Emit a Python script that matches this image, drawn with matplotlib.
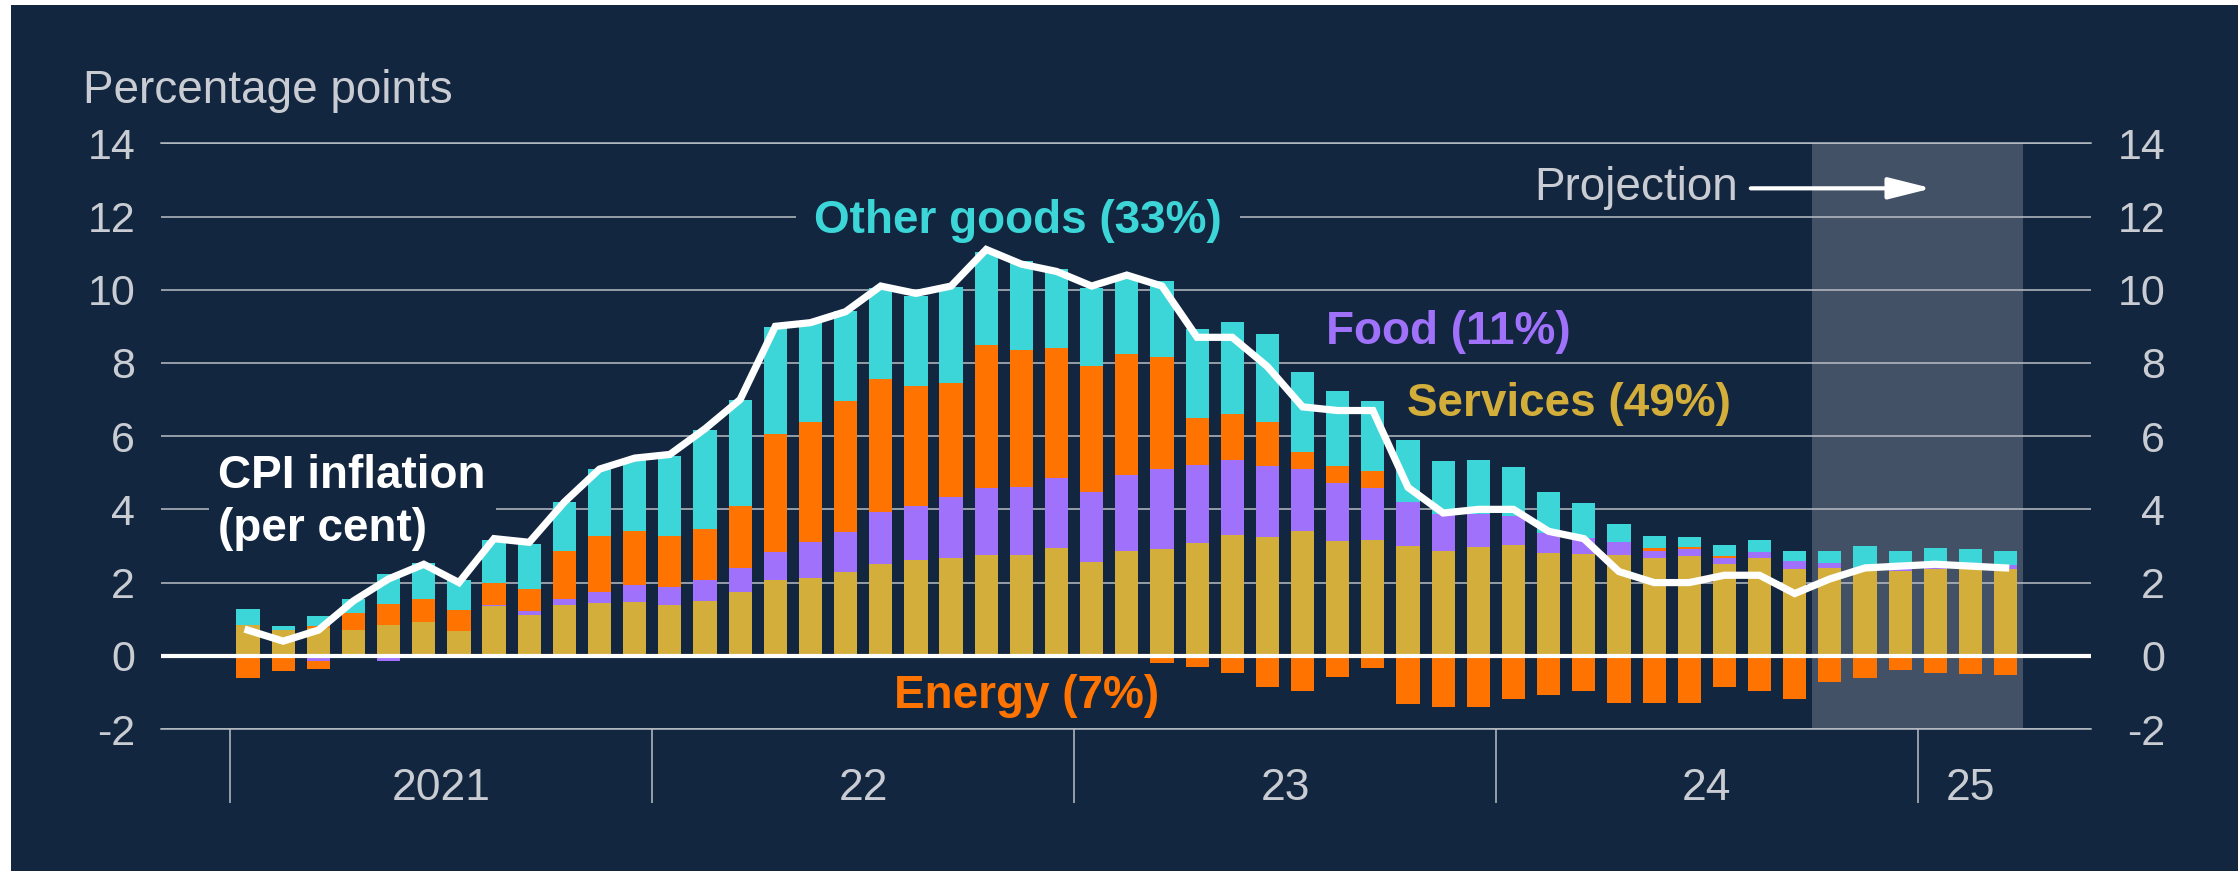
import numpy as np
import pandas as pd
import matplotlib
matplotlib.use('Agg')
from matplotlib import pyplot as plt
from matplotlib.patches import Rectangle

plt.rcParams['font.family'] = ['Liberation Sans', 'DejaVu Sans']
plt.rcParams['axes.unicode_minus'] = False

# contributions to CPI inflation, percentage points, Jan 2021 - Mar 2025
months = pd.period_range('2021-01', '2025-03', freq='M')
year_labels = ['2021', '22', '23', '24', '25']
projection_from = '2024-10'

services = [0.84, 0.70, 0.76, 0.70, 0.85, 0.92, 0.67, 1.35, 1.12, 1.39, 1.45, 1.46,
            1.40, 1.51, 1.75, 2.07, 2.13, 2.29, 2.51, 2.62, 2.68, 2.75, 2.76, 2.95,
            2.55, 2.86, 2.91, 3.08, 3.29, 3.24, 3.41, 3.14, 3.17, 3.01, 2.87, 2.98,
            3.03, 2.82, 2.78, 2.75, 2.67, 2.73, 2.51, 2.67, 2.37, 2.39, 2.32, 2.32,
            2.37, 2.37, 2.37]
food = [0, 0, -0.13, 0, -0.13, 0, 0, 0.05, 0.09, 0.16, 0.30, 0.48,
        0.49, 0.55, 0.66, 0.77, 0.99, 1.10, 1.43, 1.48, 1.67, 1.84, 1.85, 1.92,
        1.93, 2.07, 2.18, 2.13, 2.06, 1.95, 1.68, 1.57, 1.42, 1.19, 1.01, 0.90,
        0.79, 0.53, 0.43, 0.36, 0.20, 0.18, 0.16, 0.17, 0.22, 0.15, 0.05, 0.05,
        0.05, 0.05, 0.11]
# energy shows up as two orange pieces in some months (one above, one below zero)
energy_up = [0, 0, 0.05, 0.46, 0.56, 0.63, 0.57, 0.58, 0.61, 1.32, 1.51, 1.46,
             1.38, 1.40, 1.67, 3.23, 3.26, 3.57, 3.61, 3.26, 3.11, 3.91, 3.75, 3.55,
             3.43, 3.31, 3.07, 1.28, 1.25, 1.21, 0.47, 0.48, 0.47, 0, 0, 0,
             0, 0, 0, 0, 0.08, 0.07, 0.06, 0, 0, 0, 0, 0,
             0, 0, 0]
energy_down = [-0.60, -0.41, -0.23, 0, 0, 0, 0, 0, 0, 0, 0, 0,
               0, 0, 0, 0, 0, 0, 0, 0, 0, 0, 0, 0,
               0, 0, -0.21, -0.30, -0.47, -0.86, -0.95, -0.58, -0.32, -1.33, -1.41, -1.39,
               -1.17, -1.08, -0.95, -1.30, -1.28, -1.28, -0.84, -0.95, -1.19, -0.71, -0.60, -0.39,
               -0.47, -0.50, -0.52]
other_goods = [0.45, 0.11, 0.27, 0.39, 0.82, 0.99, 0.83, 1.19, 1.24, 1.33, 1.84, 1.95,
               2.18, 2.70, 2.92, 2.92, 2.73, 2.45, 2.51, 2.47, 2.62, 2.54, 2.42, 2.14,
               2.15, 2.09, 2.08, 2.45, 2.52, 2.39, 2.20, 2.05, 1.90, 1.70, 1.44, 1.48,
               1.34, 1.12, 0.97, 0.49, 0.31, 0.26, 0.31, 0.31, 0.26, 0.33, 0.64, 0.48,
               0.53, 0.51, 0.39]
cpi = [0.7, 0.4, 0.7, 1.5, 2.1, 2.5, 2.0, 3.2, 3.1, 4.2, 5.1, 5.4,
       5.5, 6.2, 7.0, 9.0, 9.1, 9.4, 10.1, 9.9, 10.1, 11.1, 10.7, 10.5,
       10.1, 10.4, 10.1, 8.7, 8.7, 7.9, 6.8, 6.7, 6.7, 4.6, 3.9, 4.0,
       4.0, 3.4, 3.2, 2.3, 2.0, 2.0, 2.2, 2.2, 1.7, 2.1, 2.4, 2.45,
       2.5, 2.45, 2.4]

navy = '#13263f'
gold = '#d4ae3a'
purple = '#a072fb'
orange = '#ff7300'
cyan = '#3dd6d8'
grid_gray = '#b9bec6'
text_gray = '#c9cdd3'

W, H = 2238, 871
fig = plt.figure(figsize=(W / 100, H / 100), dpi=100, facecolor='white')
fig.add_artist(Rectangle((11 / W, 0), 1, 1 - 5 / H, transform=fig.transFigure,
                         facecolor=navy, edgecolor='none', zorder=-1))
ax = fig.add_axes([160.7 / W, 142 / H, 1930 / W, 585.7 / H])
ax.set_facecolor('none')

x = np.arange(len(months))
pos_base = np.zeros(len(x))
neg_base = np.zeros(len(x))
for vals, col in [(services, gold), (food, purple), (energy_up, orange),
                  (energy_down, orange), (other_goods, cyan)]:
    v = np.asarray(vals, dtype=float)
    base = np.where(v >= 0, pos_base, neg_base)
    ax.bar(x, v, width=0.66, bottom=base, color=col, linewidth=0, zorder=3)
    pos_base += np.clip(v, 0, None)
    neg_base += np.clip(v, None, 0)

ax.plot(x, cpi, color='white', lw=5.2, zorder=5, solid_joinstyle='miter')
ax.axhline(0, color='white', lw=3, zorder=4)

# projection shading
p0 = months.get_loc(pd.Period(projection_from, freq='M'))
ax.axvspan(p0 - 0.5, len(x) - 0.5, color='white', alpha=0.2, lw=0, zorder=0.4)

ax.set_xlim(-2.484, 52.42)
ax.set_ylim(-2, 14)
ax.set_yticks(np.arange(-2, 15, 2))
ax.set_axisbelow(True)
ax.yaxis.grid(True, color=grid_gray, lw=1.1)
for s in ['left', 'right']:
    ax.spines[s].set_visible(False)
for s in ['top', 'bottom']:
    ax.spines[s].set_color(grid_gray)
    ax.spines[s].set_linewidth(1.1)
ax.tick_params(axis='y', length=0, labelsize=31, labelcolor=text_gray, pad=18.5)

ax2 = ax.twinx()
ax2.set_ylim(-2, 14)
ax2.set_yticks(np.arange(-2, 15, 2))
ax2.tick_params(axis='y', length=0, labelsize=31, labelcolor=text_gray, pad=53.5)
for lab in ax2.get_yticklabels():
    lab.set_horizontalalignment('right')
for s in ax2.spines.values():
    s.set_visible(False)

# year ticks
jan = [i for i, m in enumerate(months) if m.month == 1]
ax.set_xticks(np.array(jan) - 0.5)
ax.set_xticklabels([])
centres = [x[months.year == y].mean() for y in sorted(set(months.year))]
ax.set_xticks(centres, minor=True)
ax.set_xticklabels(year_labels, minor=True)
ax.tick_params(axis='x', which='major', length=53.3, width=1.1, color=grid_gray)
ax.tick_params(axis='x', which='minor', length=0, pad=28, labelsize=32,
               labelcolor=text_gray)

# labels
lab_kw = dict(fontsize=33, fontweight='bold')
ax.text(21.9, 11.55, 'Other goods (33%)', color=cyan, ha='center', va='baseline',
        zorder=2.5, bbox=dict(facecolor=navy, edgecolor='none', pad=13), **lab_kw)
ax.text(30.68, 8.53, 'Food (11%)', color=purple, ha='left', va='baseline', zorder=6, **lab_kw)
ax.text(32.97, 6.56, 'Services (49%)', color=gold, ha='left', va='baseline', zorder=6, **lab_kw)
ax.text(18.37, -1.42, 'Energy (7%)', color=orange, ha='left', va='baseline', zorder=6, **lab_kw)
ax.text(-0.84, 4.19, 'CPI inflation\n(per cent)', color='white', ha='left', va='center',
        zorder=2.5, linespacing=1.25,
        bbox=dict(facecolor=navy, edgecolor='none', pad=7), **lab_kw)

ax.text(42.4, 12.77, 'Projection', color=text_gray, ha='right', va='center',
        fontsize=33, zorder=6)
ax.annotate('', xy=(47.9, 12.77), xytext=(42.75, 12.77), zorder=6,
            arrowprops=dict(arrowstyle='-|>,head_length=0.8,head_width=0.2',
                            mutation_scale=33, color='white', lw=3,
                            shrinkA=0, shrinkB=0))

fig.text(83 / W, 1 - 103.3 / H, 'Percentage points', color=text_gray, fontsize=33,
         ha='left', va='baseline')

fig.savefig('out.png', dpi=100, facecolor='white')
